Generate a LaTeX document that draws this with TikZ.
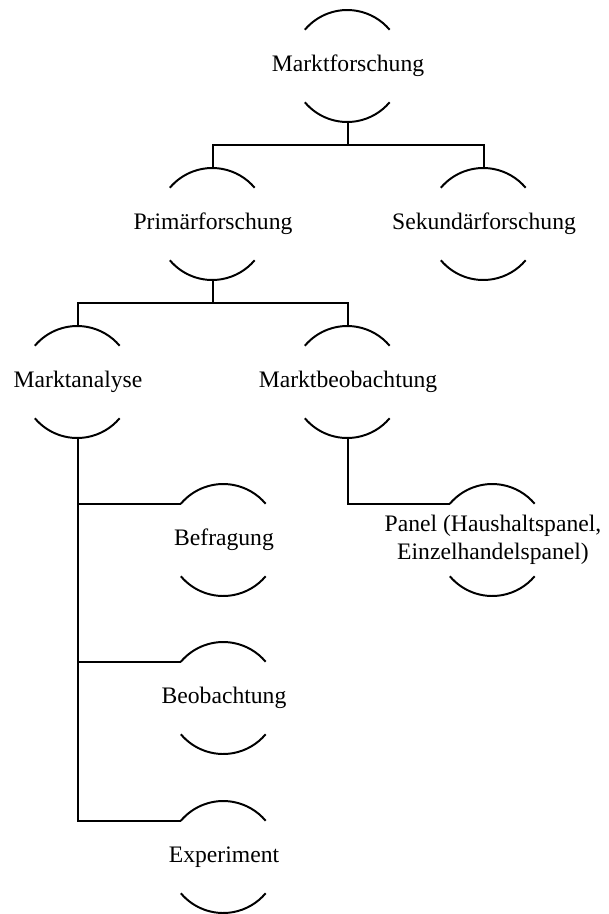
\documentclass[tikz,border=0pt]{standalone}
\usepackage{fontspec}
\setmainfont{Liberation Serif}
\usetikzlibrary{calc}

\begin{document}
\begin{tikzpicture}[x=0.457pt, y=-0.457pt, line width=0.9pt,
    font=\fontsize{10.8}{12.4}\selectfont,
    knoten/.style={circle, minimum size=50.6pt, inner sep=0pt}]
    \def\R{25.3pt} \def\h{23}
    \useasboundingbox (0, 0) rectangle (609, 914);

    \node[knoten] (mf) at (348, 66) {\makebox[0pt]{Marktforschung}};
    \node[knoten] (pf) at (213, 224) {\makebox[0pt]{Primärforschung}};
    \node[knoten] (sf) at (484, 224) {\makebox[0pt]{Sekundärforschung}};
    \node[knoten] (ma) at (78, 382) {\makebox[0pt]{Marktanalyse}};
    \node[knoten] (mb) at (348, 382) {\makebox[0pt]{Marktbeobachtung}};
    \node[knoten] (bf) at (224, 540) {\makebox[0pt]{Befragung}};
    \node[knoten] (bo) at (224, 698) {\makebox[0pt]{Beobachtung}};
    \node[knoten] (ex) at (224, 857) {\makebox[0pt]{Experiment}};
    \node[knoten] (pa) at (493, 540) {\makebox[0pt]{\begin{tabular}{@{}c@{}}Panel (Haushaltspanel,\\ Einzelhandelspanel)\end{tabular}}};

    \foreach \n in {mf, pf, sf, ma, mb, bf, bo, ex, pa} {
        \draw (\n.140) arc [start angle=140, end angle=40, radius=\R];
        \draw (\n.220) arc [start angle=220, end angle=320, radius=\R];
    }

    \draw (mf.south) -- ++(0, \h) -| (pf.north);
    \draw (mf.south) -- ++(0, \h) -| (sf.north);
    \draw (pf.south) -- ++(0, \h) -| (ma.north);
    \draw (pf.south) -- ++(0, \h) -| (mb.north);
    \draw (ma.south) |- (bf.140);
    \draw (ma.south) |- (bo.140);
    \draw (ma.south) |- (ex.140);
    \draw (mb.south) |- (pa.140);
\end{tikzpicture}
\end{document}
